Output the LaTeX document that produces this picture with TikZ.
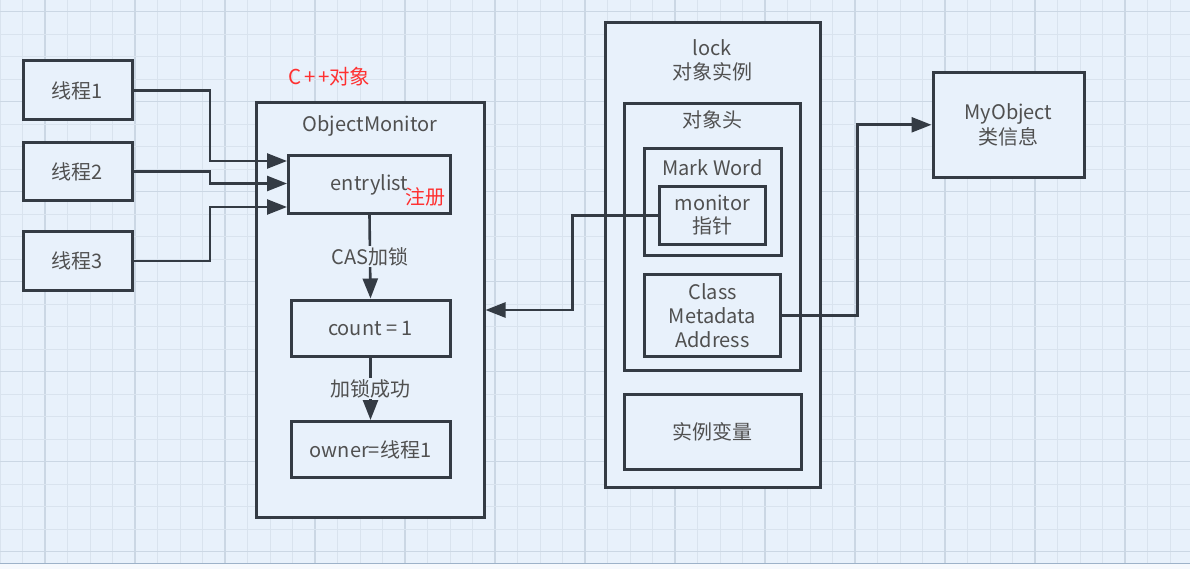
\documentclass[tikz,border=0pt]{standalone}
\usepackage{fontspec}
\setmainfont{Noto Sans CJK SC}
\usetikzlibrary{arrows.meta,calc}
\definecolor{bgc}{HTML}{E8F1FB}
\definecolor{gridminor}{HTML}{D9E3EE}
\definecolor{gridmajor}{HTML}{CBD7E4}
\definecolor{linec}{HTML}{343B44}
\definecolor{txtc}{HTML}{505050}
\definecolor{redc}{HTML}{FF3030}
\definecolor{basec}{HTML}{9DB2C9}
\begin{document}
\begin{tikzpicture}[x=1pt,y=-1pt,
  font=\fontsize{20}{24}\selectfont,
  box/.style={draw=linec,line width=3pt,fill=bgc,inner sep=0pt,text=txtc,align=center},
  lbl/.style={text=txtc,inner sep=1pt,align=center},
  redlbl/.style={text=redc,inner sep=0pt},
  conn/.style={draw=linec,line width=2.6pt},
  arr/.style={conn,-{Triangle[length=20pt,width=15pt]}},
  mid/.style={fill=bgc,text=txtc,inner sep=1pt}]
\useasboundingbox (0,0) rectangle (1190,569);
\fill[bgc] (0,0) rectangle (1190,569);
% grid
\foreach \i in {0,...,52}{
  \pgfmathsetmacro{\gx}{\i*22.5}
  \pgfmathtruncatemacro{\m}{mod(\i,4)}
  \ifnum\m=2 \draw[gridmajor,line width=1.2pt] (\gx,0) -- (\gx,569);
  \else \draw[gridminor,line width=1pt] (\gx,0) -- (\gx,569); \fi
}
\foreach \j in {0,...,24}{
  \pgfmathsetmacro{\gy}{11.7+\j*22.5}
  \pgfmathtruncatemacro{\m}{mod(\j,4)}
  \ifnum\m=0 \draw[gridmajor,line width=1.2pt] (0,\gy) -- (1190,\gy);
  \else \draw[gridminor,line width=1pt] (0,\gy) -- (1190,\gy); \fi
}
\fill[white!60!bgc] (0,563.3) rectangle (1190,569);
\draw[basec,line width=1.5pt] (0,563.3) -- (1190,563.3);

% thread boxes
\node[box,minimum width=109pt,minimum height=59pt] (t1) at (77.5,90.5) {线程1};
\node[box,minimum width=109pt,minimum height=58pt] (t2) at (77.5,171.5) {线程2};
\node[box,minimum width=109pt,minimum height=58pt] (t3) at (77.5,261) {线程3};

% ObjectMonitor
\node[redlbl,font=\fontsize{20.5}{24}\selectfont] (cpp) at (329.5,77) {C{\kern2.5pt}+{\kern2.5pt}+对象};
\node[box,minimum width=228pt,minimum height=414pt] (om) at (370,310) {};
\node[lbl] (omlbl) at (370,126) {ObjectMonitor};
\node[box,minimum width=162pt,minimum height=58pt] (el) at (369.5,184.5) {entrylist};
\node[redlbl] (reg) at (425,197) {注册};
\node[box,minimum width=159pt,minimum height=56pt] (cnt) at (370.5,328) {count = 1};
\node[box,minimum width=159pt,minimum height=56pt] (own) at (370.5,449.5) {owner=线程1};

\draw[arr] (el.south) -- (cnt.north) node[mid,pos=0.5] (caslbl) {CAS加锁};
\draw[arr] (cnt.south) -- (own.north) node[mid,pos=0.5] (oklbl) {加锁成功};

% thread connectors
\coordinate (bendT) at (210,0);
\coordinate (e1) at ($(el.west)+(0,-23.5)$);
\coordinate (e2) at ($(el.west)+(0,-1)$);
\coordinate (e3) at ($(el.west)+(0,22.5)$);
\draw[arr] (t1.east) -- (t1.east -| bendT) -- (e1 -| bendT) -- (e1);
\draw[arr] (t2.east) -- (t2.east -| bendT) -- (e2 -| bendT) -- (e2);
\draw[arr] (t3.east) -- (t3.east -| bendT) -- (e3 -| bendT) -- (e3);

% lock instance
\node[box,minimum width=215pt,minimum height=465pt] (lock) at (712.5,255.3) {};
\node[lbl] (locklbl) at (712.5,60) {lock\\对象实例};
\node[box,minimum width=176.5pt,minimum height=267pt] (hdr) at (712.3,236.6) {};
\node[lbl] (hdrlbl) at (712.3,120) {对象头};
\node[box,minimum width=137pt,minimum height=106pt] (mw) at (712.5,202) {};
\node[lbl] (mwlbl) at (712.5,167.5) {Mark Word};
\node[box,minimum width=106.5pt,minimum height=57.5pt] (mon) at (712.3,215.4) {monitor\\[-1pt]指针};
\node[box,minimum width=136.5pt,minimum height=82pt] (cma) at (712.5,315.2) {Class\\Metadata\\Address};
\node[box,minimum width=177pt,minimum height=75.5pt] (iv) at (712.5,432.2) {实例变量};

% MyObject
\node[box,minimum width=151pt,minimum height=105pt] (myo) at (1008.5,124.8) {MyObject\\[1pt]类信息};

% monitor pointer -> ObjectMonitor
\coordinate (bendM) at (572.3,0);
\draw[arr] (mon.west) -- (mon.west -| bendM) -- (om.east -| bendM) -- (om.east);
% class metadata -> MyObject
\coordinate (bendC) at (857.3,0);
\draw[arr] (cma.east) -- (cma.east -| bendC) -- (myo.west -| bendC) -- (myo.west);
\end{tikzpicture}
\end{document}
